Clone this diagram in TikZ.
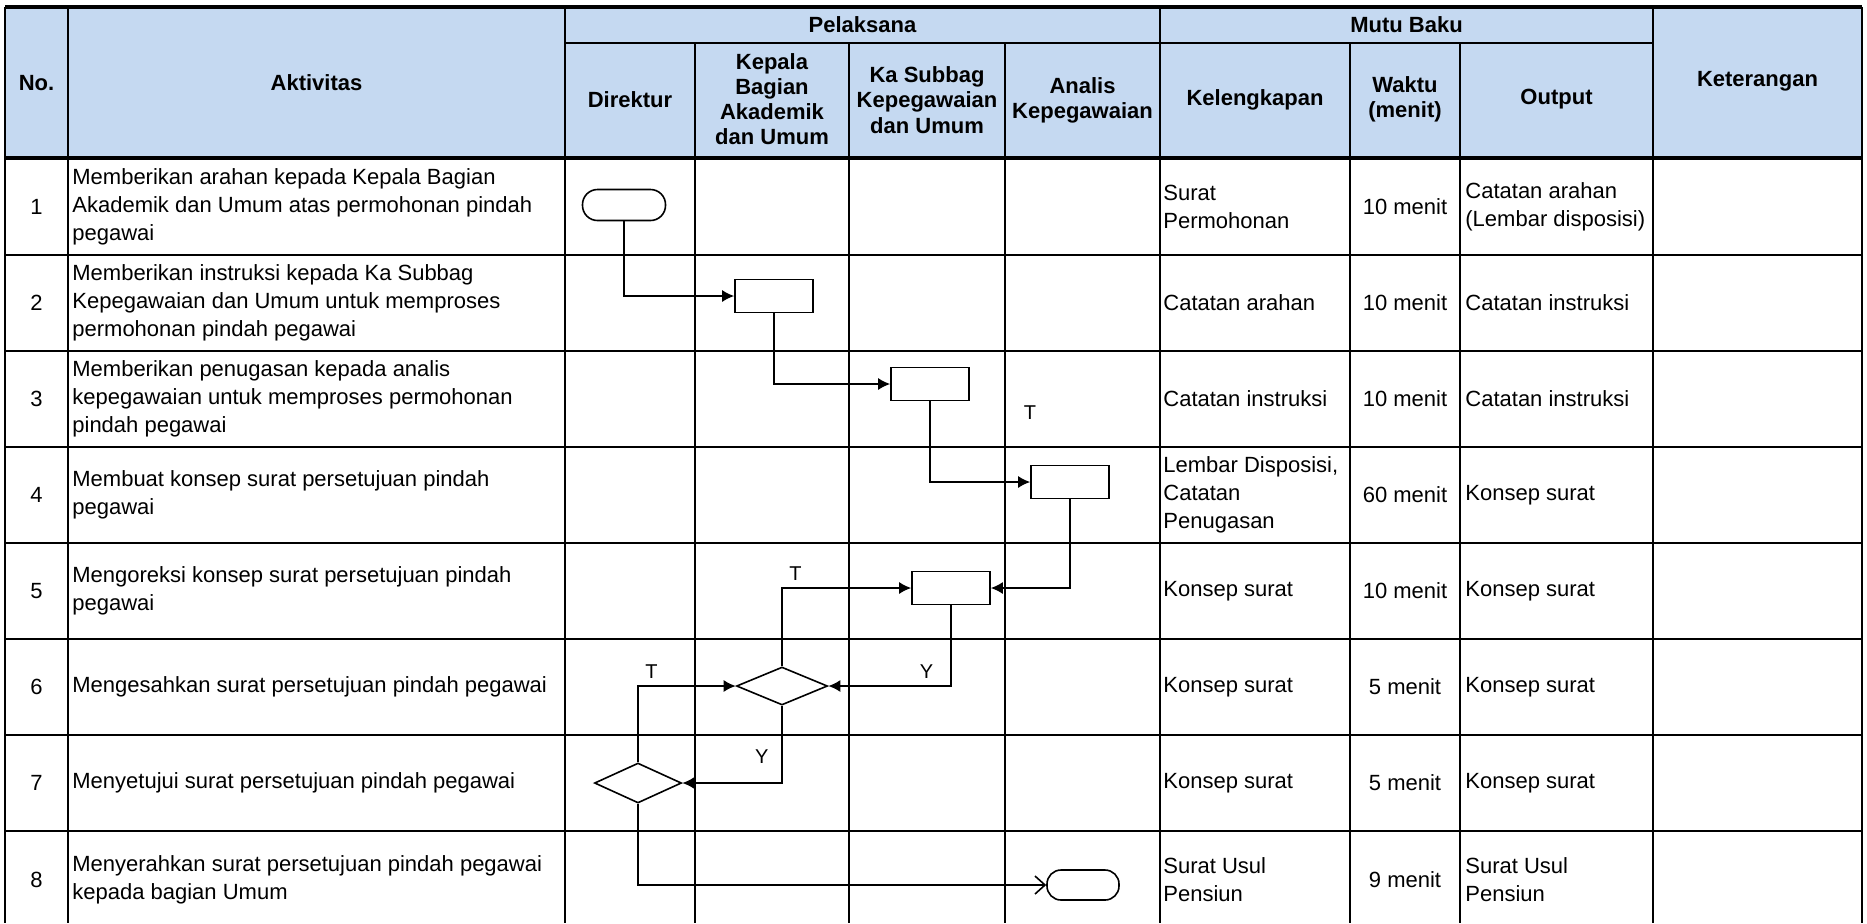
\documentclass[tikz,border=0pt]{standalone}
\usepackage{fontspec}
\setmainfont{Liberation Sans}
\usetikzlibrary{arrows.meta,shapes.geometric}

\definecolor{hdrblue}{RGB}{197,217,241}

\begin{document}
\begin{tikzpicture}[x=0.5pt,y=-0.5pt,>={Latex[length=6pt,width=6pt]}]
% --- styles ---------------------------------------------------
\tikzstyle{grid}     =[line width=1pt]
\tikzstyle{gridthick}=[line width=1.6pt]
\tikzstyle{hdr}      =[font=\bfseries\fontsize{11}{12.6}\selectfont,align=center,inner sep=0pt]
\tikzstyle{cell}     =[font=\fontsize{11}{14}\selectfont,align=left,inner sep=0pt]
\tikzstyle{proc}     =[draw,line width=0.8pt,minimum width=39pt,minimum height=16.5pt,inner sep=0pt]
\tikzstyle{term}     =[proc,rounded corners=7.5pt]
\tikzstyle{dec}      =[draw,diamond,line width=0.8pt,inner sep=0pt]
\tikzstyle{flow}     =[line width=0.8pt,->]
\tikzstyle{lbl}      =[font=\fontsize{10}{12}\selectfont]

\useasboundingbox (0,0) rectangle (1867,923);

% --- header band ----------------------------------------------
\fill[hdrblue] (5,7) rectangle (1862,158);

\node[hdr] (hno)   at (36.5,83)   {No.};
\node[hdr] (hakt)  at (316.5,83)  {Aktivitas};
\node[hdr] (hpel)  at (862.5,25)  {Pelaksana};
\node[hdr] (hmutu) at (1406.5,25) {Mutu Baku};
\node[hdr] (hket)  at (1757.5,81) {Keterangan};
\node[hdr] (hdir)  at (630,100)   {Direktur};
\node[hdr] (hkba)  at (772,99)    {Kepala\\Bagian\\Akademik\\dan Umum};
\node[hdr] (hksb)  at (927,100)   {Ka Subbag\\Kepegawaian\\dan Umum};
\node[hdr] (hana)  at (1082.5,100){Analis\\Kepegawaian};
\node[hdr] (hkel)  at (1255,100)  {Kelengkapan};
\node[hdr] (hwkt)  at (1405,99)   {Waktu\\(menit)};
\node[hdr] (hout)  at (1556.5,99) {Output};

% --- table rules ----------------------------------------------
\foreach \y in {255,351,447,543,639,735,831}
  \draw[grid] (5,\y) -- (1862,\y);
\foreach \x in {5,68,565,1160,1653,1862}
  \draw[grid] (\x,7) -- (\x,923);
\foreach \x in {695,849,1005,1350,1460}
  \draw[grid] (\x,43) -- (\x,923);
\draw[grid] (565,43) -- (1653,43);
\draw[gridthick] (5,7) -- (1862,7);
\draw[gridthick] (5,158) -- (1862,158);

% --- row texts ------------------------------------------------
\foreach \i/\y/\akt/\kel/\wkt/\out in {
  1/206.5/{Memberikan arahan kepada Kepala Bagian\\Akademik dan Umum atas permohonan pindah\\pegawai}/{Surat\\Permohonan}/10 menit/{Catatan arahan\\(Lembar disposisi)},
  2/303/{Memberikan instruksi kepada Ka Subbag\\Kepegawaian dan Umum untuk memproses\\permohonan pindah pegawai}/{Catatan arahan}/10 menit/{Catatan instruksi},
  3/399/{Memberikan penugasan kepada analis\\kepegawaian untuk memproses permohonan\\pindah pegawai}/{Catatan instruksi}/10 menit/{Catatan instruksi},
  4/495/{Membuat konsep surat persetujuan pindah\\pegawai}/{Lembar Disposisi,\\Catatan\\Penugasan}/60 menit/{Konsep surat},
  5/591/{Mengoreksi konsep surat persetujuan pindah\\pegawai}/{Konsep surat}/10 menit/{Konsep surat},
  6/687/{Mengesahkan surat persetujuan pindah pegawai}/{Konsep surat}/5 menit/{Konsep surat},
  7/783/{Menyetujui surat persetujuan pindah pegawai}/{Konsep surat}/5 menit/{Konsep surat},
  8/880/{Menyerahkan surat persetujuan pindah pegawai\\kepada bagian Umum}/{Surat Usul\\Pensiun}/9 menit/{Surat Usul\\Pensiun}}
{
  \node[cell] (no\i) at (36.5,\y) {\i};
  \node[cell,anchor=west] (akt\i) at (72,\y) {\akt};
  \node[cell,anchor=west] (kel\i) at (1163,\y) {\kel};
  \node[cell] (wkt\i) at (1405,\y) {\wkt};
  \node[cell,anchor=west] (out\i) at (1465,\y) {\out};
}

% --- flow symbols ---------------------------------------------
\node[term,minimum width=41.5pt,minimum height=15.5pt] (mulai) at (624,205) {};
\node[proc] (arahan)  at (774,296)  {};
\node[proc] (instr)   at (930,384)  {};
\node[proc] (konsep)  at (1070,482) {};
\node[proc] (koreksi) at (951,588)  {};
\node[dec,minimum width=45.5pt,minimum height=19pt] (sah)    at (782,686) {};
\node[dec,minimum width=43.5pt,minimum height=20pt] (setuju) at (638,783) {};
\node[term,minimum width=36pt,minimum height=15pt,rounded corners=7pt] (selesai) at (1083,885) {};

\node[lbl] (tlepas) at (1030,413) {T};

% --- connectors -----------------------------------------------
\draw[flow] (mulai) |- (arahan);
\draw[flow] (arahan) |- (instr);
\draw[flow] (instr) |- (konsep);
\draw[flow] (konsep) |- (koreksi);
\draw[flow] (koreksi) |- node[lbl,pos=0.6,above]{Y} (sah);
\draw[flow] (sah) |- node[lbl,pos=0.5,above right]{T} (koreksi);
\draw[flow] (sah) |- node[lbl,pos=0.33,left=3pt]{Y} (setuju);
\draw[flow] (setuju) |- node[lbl,pos=0.5,above right]{T} (sah);
\draw[line width=0.8pt,-{Straight Barb[length=5pt,width=9pt]}] (setuju) |- (selesai);

\end{tikzpicture}
\end{document}
